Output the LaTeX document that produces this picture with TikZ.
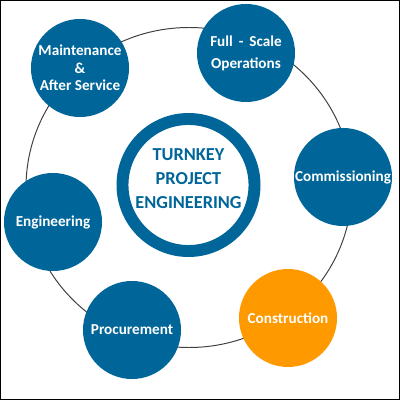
\documentclass[tikz,border=0pt]{standalone}
\usepackage{fontspec}
\setmainfont{Carlito}
\definecolor{stageblue}{HTML}{006699}
\definecolor{stageorange}{HTML}{FF9900}
\begin{document}
\begin{tikzpicture}[x=0.025cm, y=-0.025cm,
        stage/.style={circle, fill=stageblue, minimum size=2.45cm, inner sep=0pt, text=white,
            align=center, font=\bfseries\fontsize{10.8}{12.4}\selectfont},
        hub/.style={circle, draw=stageblue, line width=8.5pt, minimum size=3.3cm, inner sep=0pt},
        title/.style={text=stageblue, align=center, font=\bfseries\fontsize{13}{17}\selectfont},
        ring/.style={draw=black!75, line width=0.7pt}
    ]
        \useasboundingbox (0,0) rectangle (400,400);
        % Frame
        \draw[black, line width=0.7pt] (0.5,0.5) rectangle (399,399);

        % Outer ring
        \draw[ring] (189,187.5) ellipse [x radius=163, y radius=160];

        % Hub
        \node[hub] (hub) at (188.5,185) {};
        \node[title] (title) at (188.5,179) {TURNKEY\\PROJECT\\ENGINEERING};

        % Stages
        \node[stage] (maint) at (80,68) {Maintenance\\\&\\After Service};
        \node[stage, font=\bfseries\fontsize{10.8}{17.7}\selectfont] (full) at (246,53) {\raisebox{-2pt}{Full \,-\, Scale}\\Operations};
        \node[stage] (comm) at (343,177) {Commissioning};
        \node[stage, fill=stageorange] (cons) at (288,318) {Construction};
        \node[stage] (proc) at (132,330) {Procurement};
        \node[stage] (eng) at (53,222) {Engineering};
    \end{tikzpicture}
\end{document}
